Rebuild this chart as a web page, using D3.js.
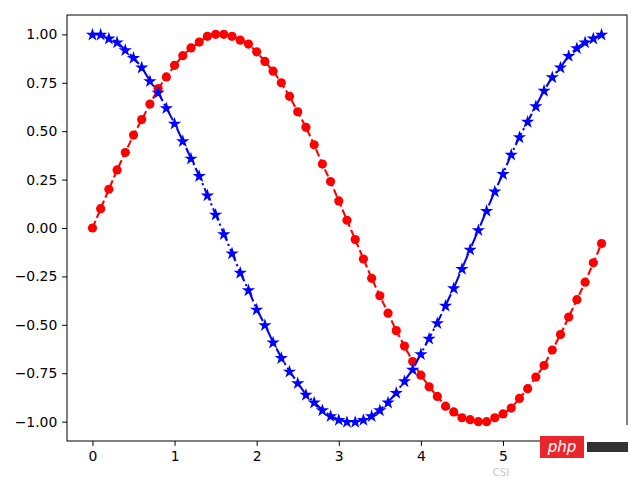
<!DOCTYPE html>
<html><head><meta charset="utf-8">
<script src="https://cdn.jsdelivr.net/npm/d3@7"></script>
<style>body{margin:0;background:#fff}svg{display:block}</style>
</head><body>
<script>
const xs = [0.0,0.1,0.2,0.3,0.4,0.5,0.6,0.7,0.8,0.9,1.0,1.1,1.2,1.3,1.4,1.5,1.6,1.7,1.8,1.9,2.0,2.1,2.2,2.3,2.4,2.5,2.6,2.7,2.8,2.9,3.0,3.1,3.2,3.3,3.4,3.5,3.6,3.7,3.8,3.9,4.0,4.1,4.2,4.3,4.4,4.5,4.6,4.7,4.8,4.9,5.0,5.1,5.2,5.3,5.4,5.5,5.6,5.7,5.8,5.9,6.0,6.1,6.2];
const sinVals = [0.00,0.10,0.20,0.30,0.39,0.48,0.56,0.64,0.72,0.78,0.84,0.89,0.93,0.96,0.99,1.00,1.00,0.99,0.97,0.95,0.91,0.86,0.81,0.75,0.68,0.60,0.52,0.43,0.33,0.24,0.14,0.04,-0.06,-0.16,-0.26,-0.35,-0.44,-0.53,-0.61,-0.69,-0.76,-0.82,-0.87,-0.92,-0.95,-0.98,-0.99,-1.00,-1.00,-0.98,-0.96,-0.93,-0.88,-0.83,-0.77,-0.71,-0.63,-0.55,-0.46,-0.37,-0.28,-0.18,-0.08];
const cosVals = [1.00,1.00,0.98,0.96,0.92,0.88,0.83,0.76,0.70,0.62,0.54,0.45,0.36,0.27,0.17,0.07,-0.03,-0.13,-0.23,-0.32,-0.42,-0.50,-0.59,-0.67,-0.74,-0.80,-0.86,-0.90,-0.94,-0.97,-0.99,-1.00,-1.00,-0.99,-0.97,-0.94,-0.90,-0.85,-0.79,-0.73,-0.65,-0.57,-0.49,-0.40,-0.31,-0.21,-0.11,-0.01,0.09,0.19,0.28,0.38,0.47,0.55,0.63,0.71,0.78,0.83,0.89,0.93,0.96,0.98,1.00];
const xTicks = [0,1,2,3,4,5];
const yTicks = [-1.00,-0.75,-0.50,-0.25,0.00,0.25,0.50,0.75,1.00];

const W=640,H=480, L=67, R=627, T=15, B=441;
const svg = d3.select("body").append("svg").attr("width",W).attr("height",H);
const x = d3.scaleLinear().domain([-0.31,6.51]).range([L,R]);
const y = d3.scaleLinear().domain([-1.1,1.1]).range([B,T]);
const font = "DejaVu Sans";
const fmtY = v => (v<0?"\u2212":"") + Math.abs(v).toFixed(2);

const gx = svg.append("g").attr("transform",`translate(0,${B})`)
  .call(d3.axisBottom(x).tickValues(xTicks).tickSize(4.86).tickPadding(4.86).tickFormat(d3.format("d")));
const gy = svg.append("g").attr("transform",`translate(${L},0)`)
  .call(d3.axisLeft(y).tickValues(yTicks).tickSize(4.86).tickPadding(4.86).tickFormat(fmtY));
[gx,gy].forEach(g=>{
  g.select(".domain").remove();
  g.selectAll("line").attr("stroke","#000").attr("stroke-width",1);
  g.selectAll("text").attr("font-family",font).attr("font-size",13.9).attr("fill","#000");
});

svg.append("rect").attr("x",L).attr("y",T).attr("width",R-L).attr("height",B-T)
  .attr("fill","none").attr("stroke","#000").attr("stroke-width",1);

const sinData = xs.map((v,i)=>[v,sinVals[i]]);
const cosData = xs.map((v,i)=>[v,cosVals[i]]);
const line = d3.line().x(d=>x(d[0])).y(d=>y(d[1]));

// red dashed with circles
svg.append("path").datum(sinData).attr("d",line).attr("fill","none")
  .attr("stroke","#ff0000").attr("stroke-width",2.08).attr("stroke-dasharray","7.7,3.3");
svg.append("g").selectAll("circle").data(sinData).join("circle")
  .attr("cx",d=>x(d[0])).attr("cy",d=>y(d[1])).attr("r",4.6).attr("fill","#ff0000");

// blue dash-dot with stars
svg.append("path").datum(cosData).attr("d",line).attr("fill","none")
  .attr("stroke","#0000ff").attr("stroke-width",2.08).attr("stroke-dasharray","13.3,3.3,2.1,3.3");
const star = d3.symbol().type(d3.symbolStar).size(55);
svg.append("g").selectAll("path").data(cosData).join("path")
  .attr("d",star).attr("transform",d=>`translate(${x(d[0])},${y(d[1])+0.5})`).attr("fill","#0000ff");

// watermark overlay
svg.append("rect").attr("x",540).attr("y",425).attr("width",100).attr("height",45).attr("fill","#fff");
svg.append("rect").attr("x",540).attr("y",436).attr("width",44).attr("height",22).attr("fill","#e8262b");
svg.append("text").attr("x",562).attr("y",452).attr("text-anchor","middle")
  .attr("font-family",font).attr("font-style","italic").attr("font-size",15).attr("fill","#fff").text("php");
svg.append("rect").attr("x",587).attr("y",442).attr("width",41).attr("height",10).attr("fill","#333");
svg.append("text").attr("x",501).attr("y",476).attr("text-anchor","middle")
  .attr("font-family",font).attr("font-size",10).attr("fill","#bbb").attr("opacity",0.8).text("CSI");
</script>
</body></html>
